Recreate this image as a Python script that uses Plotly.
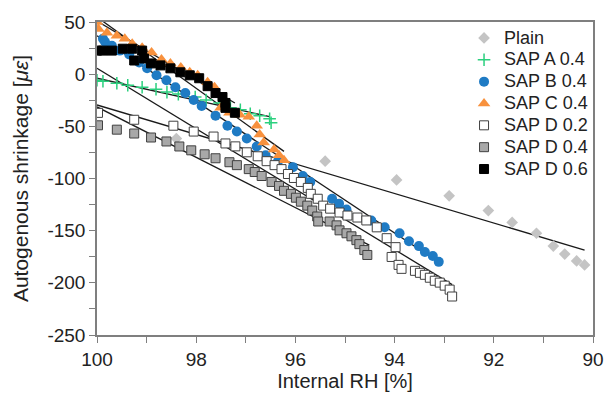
import plotly.graph_objects as go

# ---------------- data ----------------
series_names = ["Plain", "SAP A 0.4", "SAP B 0.4", "SAP C 0.4", "SAP D 0.2", "SAP D 0.4", "SAP D 0.6"]

plain_rh = [98.40, 95.40, 93.96, 92.90, 92.11, 91.63, 91.14, 90.80, 90.57, 90.33, 90.17]
plain_sh = [-61.7, -83.4, -101.4, -116.6, -130.7, -142.1, -152.5, -164.8, -172.4, -179.0, -182.8]

a_rh = [100.0, 99.88, 99.60, 99.38, 99.09, 98.81, 98.59, 98.36, 98.02, 97.80, 97.53, 97.31,
        97.11, 96.91, 96.72, 96.52, 96.49]
a_sh = [-5.8, -6.8, -8.7, -10.6, -12.5, -14.4, -17.2, -19.1, -21.9, -24.8, -27.6, -32.3,
        -34.2, -38.0, -39.9, -42.7, -46.5]

b_rh = [99.88, 99.84, 99.70, 99.54, 99.35, 99.15, 98.99, 98.80, 98.60, 98.42, 98.22, 98.05,
        97.89, 97.61, 97.37, 97.18, 96.98, 96.78, 96.60, 96.35, 96.05, 95.85, 95.70, 95.26,
        95.12, 94.97, 94.47, 94.20, 93.90, 93.71, 93.51, 93.39, 93.23, 93.11]
b_sh = [33.9, 31.1, 27.3, 22.6, 18.8, 11.2, 5.6, -1.0, -5.8, -12.5, -18.1, -24.8,
        -30.4, -39.9, -49.4, -55.0, -61.7, -69.3, -77.8, -83.4, -89.1, -97.6, -103.3, -119.4,
        -124.1, -129.8, -140.2, -146.8, -152.5, -160.1, -164.8, -170.5, -174.3, -179.9]

c_rh = [100.0, 99.97, 99.80, 99.60, 99.44, 99.29, 99.09, 98.90, 98.70, 98.52, 98.31, 98.13,
        97.97, 97.77, 97.63, 97.51, 97.33, 97.12, 96.94, 96.78, 96.72, 96.64, 96.43, 96.33, 96.23]
c_sh = [50.0, 43.4, 39.6, 36.8, 33.9, 29.2, 25.4, 20.7, 14.1, 10.3, 6.5, 1.8,
        -1.1, -7.7, -12.5, -32.3, -37.0, -39.0, -40.9, -49.4, -57.9, -65.5, -72.1, -77.8, -82.5]

d2_rh = [99.98, 99.25, 98.46, 98.05, 97.65, 97.41, 97.21, 96.98, 96.76, 96.58, 96.42, 96.28,
         96.15, 96.03, 95.89, 95.75, 95.69, 95.55, 95.44, 95.30, 95.11, 94.95, 94.75, 94.57,
         94.36, 94.16, 93.98, 94.06, 93.92, 93.86, 93.59, 93.49, 93.39, 93.29, 93.19, 93.09,
         92.99, 92.89, 92.84]
d2_sh = [-37.1, -43.7, -49.4, -55.0, -59.8, -66.4, -69.2, -74.9, -78.7, -83.4, -87.2, -91.0,
         -95.7, -99.5, -103.3, -109.0, -114.7, -119.4, -126.0, -128.9, -132.6, -135.5, -137.4, -140.2,
         -146.8, -157.2, -165.8, -175.2, -182.8, -186.6, -188.5, -190.4, -192.3, -195.1, -198.0, -199.8,
         -202.7, -206.5, -213.1]

d4_rh = [99.98, 99.60, 99.25, 98.91, 98.60, 98.34, 98.10, 97.83, 97.61, 97.33, 97.18, 96.94,
         96.82, 96.68, 96.48, 96.33, 96.23, 96.09, 95.99, 95.89, 95.76, 95.66, 95.56, 95.54,
         95.31, 95.17, 95.11, 94.97, 94.87, 94.77, 94.71, 94.61, 94.55]
d4_sh = [-49.0, -53.2, -56.9, -60.7, -64.5, -69.3, -73.0, -76.8, -80.6, -84.4, -87.2, -91.0,
         -93.8, -97.6, -103.3, -107.1, -111.8, -114.7, -118.4, -122.2, -126.0, -130.7, -136.4, -141.2,
         -141.2, -144.9, -149.7, -152.5, -155.4, -159.1, -162.9, -168.6, -173.3]

d6_rh = [100.0, 99.88, 99.70, 99.48, 99.29, 99.25, 99.09, 99.05, 98.91, 98.72, 98.52, 98.32,
         98.13, 97.94, 97.77, 97.61, 97.47, 97.41, 97.41, 97.22]
d6_sh = [22.6, 22.6, 22.6, 24.4, 24.4, 13.1, 22.6, 15.0, 10.3, 8.4, 5.6, 1.8,
         -1.1, -3.9, -11.5, -18.1, -21.9, -27.6, -32.3, -37.0]

# linear fit lines (start / end)
fit_names = ["C", "D0.6", "B", "D0.2", "A", "Plain", "D0.4"]
fit_x0 = [100.0, 100.0, 100.0, 100.0, 100.0, 100.0, 100.0]
fit_y0 = [54.7, 50.9, 36.8, 5.6, -3.9, -29.5, -31.4]
fit_x1 = [96.23, 97.22, 93.09, 92.84, 96.52, 90.17, 94.51]
fit_y1 = [-74.0, -27.6, -180.9, -201.7, -40.8, -168.6, -163.9]

x_ticks = [100, 98, 96, 94, 92, 90]
y_ticks = [50, 0, -50, -100, -150, -200, -250]

# ---------------- figure ----------------
fig = go.Figure()

for i in range(len(fit_names)):
    fig.add_trace(go.Scatter(x=[fit_x0[i], fit_x1[i]], y=[fit_y0[i], fit_y1[i]], mode="lines",
                             line=dict(color="#1a1a1a", width=1.3), showlegend=False,
                             hoverinfo="skip"))


def lname(s):
    return '<span style="font-size:18px">' + s + '</span>'


edge = dict(color="#404040", width=1)
fig.add_trace(go.Scatter(x=plain_rh, y=plain_sh, mode="markers", name=lname(series_names[0]),
                         marker=dict(symbol="diamond", size=9, color="#C4C4C4")))
fig.add_trace(go.Scatter(x=a_rh, y=a_sh, mode="markers", name=lname(series_names[1]),
                         marker=dict(symbol="cross-thin", size=9, color="#2BD07E",
                                     line=dict(color="#2BD07E", width=1.5))))
fig.add_trace(go.Scatter(x=b_rh, y=b_sh, mode="markers", name=lname(series_names[2]),
                         marker=dict(symbol="circle", size=10, color="#1F7BC4")))
fig.add_trace(go.Scatter(x=c_rh, y=c_sh, mode="markers", name=lname(series_names[3]),
                         marker=dict(symbol="triangle-up", size=11, color="#F8913D")))
fig.add_trace(go.Scatter(x=d2_rh, y=d2_sh, mode="markers", name=lname(series_names[4]),
                         marker=dict(symbol="square", size=9, color="white", line=edge)))
fig.add_trace(go.Scatter(x=d4_rh, y=d4_sh, mode="markers", name=lname(series_names[5]),
                         marker=dict(symbol="square", size=9, color="#A8A8A8", line=edge)))
fig.add_trace(go.Scatter(x=d6_rh, y=d6_sh, mode="markers", name=lname(series_names[6]),
                         marker=dict(symbol="square", size=9, color="#000000",
                                     line=dict(color="#000000", width=1))))

fam = "Liberation Sans, Arial, sans-serif"
tick_font = dict(family=fam, size=19, color="#222222")
title_font = dict(family=fam, size=20, color="#222222")
ytitle_font = dict(family=fam, size=21, color="#222222")
legend_font = dict(family=fam, size=14.5, color="#222222")
axis_common = dict(showline=True, linecolor="#7f7f7f", linewidth=1.5, mirror=True,
                   ticks="outside", ticklen=6, tickcolor="#7f7f7f", tickwidth=1,
                   showgrid=False, zeroline=False, tickfont=tick_font)

fig.update_layout(
    width=616, height=400,
    margin=dict(l=97, r=12, t=21, b=62),
    paper_bgcolor="white", plot_bgcolor="white",
    font=tick_font,
    xaxis=dict(range=[100, 90], tickvals=x_ticks, ticktext=[str(v) for v in x_ticks],
               minor=dict(dtick=1, ticks="outside", ticklen=6, tickcolor="#7f7f7f"),
               title=dict(text="Internal RH [%]", font=title_font, standoff=4), **axis_common),
    yaxis=dict(range=[-250, 50], tickvals=y_ticks, ticktext=[str(v) for v in y_ticks],
               minor=dict(dtick=25, ticks="outside", ticklen=6, tickcolor="#7f7f7f"),
               title=dict(text="Autogenous shrinkage [<i>με</i>]", font=ytitle_font, standoff=13),
               **axis_common),
    legend=dict(x=0.74, y=1.0, xanchor="left", yanchor="top", bgcolor="rgba(0,0,0,0)",
                font=legend_font, itemwidth=30, tracegroupgap=0),
    showlegend=True,
)

fig.write_html("out.html")
